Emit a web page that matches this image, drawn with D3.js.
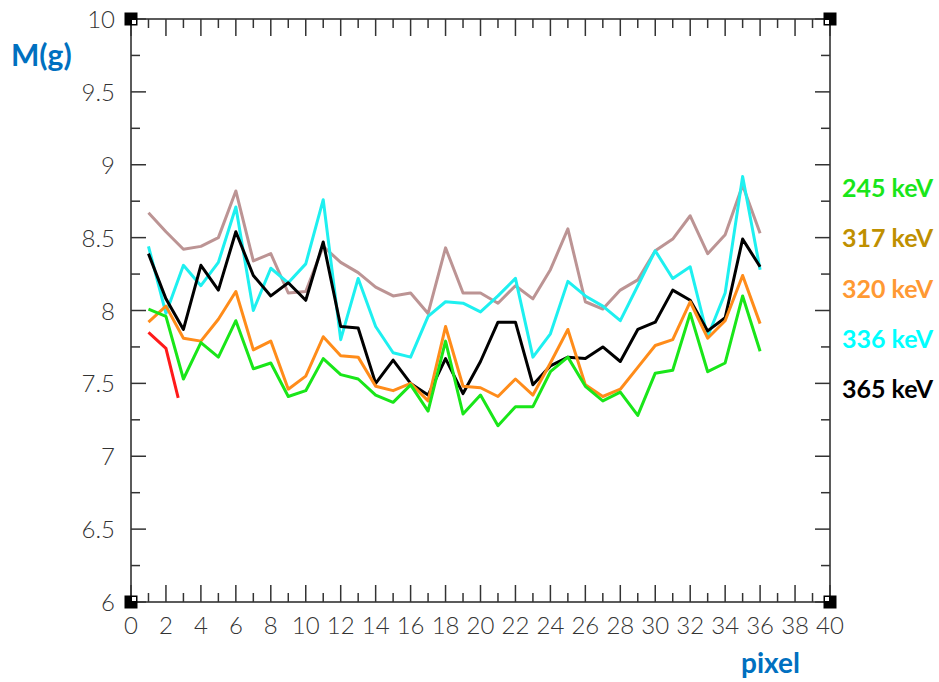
<!DOCTYPE html>
<html>
<head>
<meta charset="utf-8">
<script src="https://cdn.jsdelivr.net/npm/d3@7"></script>
<style>
  html, body { margin: 0; padding: 0; background: #fff; }
  svg { display: block; }
</style>
</head>
<body>
<svg id="chart" width="939" height="682"></svg>
<script>
// ---- data ----
const pixels = [1,2,3,4,5,6,7,8,9,10,11,12,13,14,15,16,17,18,19,20,21,22,23,24,25,26,27,28,29,30,31,32,33,34,35,36];
const series245 = [8.01,7.96,7.53,7.78,7.68,7.93,7.60,7.64,7.41,7.45,7.67,7.56,7.53,7.42,7.37,7.49,7.31,7.79,7.29,7.42,7.21,7.34,7.34,7.58,7.68,7.48,7.38,7.44,7.28,7.57,7.59,7.98,7.58,7.64,8.10,7.72];
const series317 = [8.67,8.54,8.42,8.44,8.50,8.82,8.34,8.39,8.12,8.13,8.44,8.33,8.26,8.16,8.10,8.12,7.98,8.43,8.12,8.12,8.05,8.17,8.08,8.28,8.56,8.06,8.01,8.14,8.21,8.41,8.49,8.65,8.39,8.52,8.86,8.53];
const series320 = [7.92,8.03,7.81,7.79,7.94,8.13,7.73,7.79,7.46,7.55,7.82,7.69,7.68,7.48,7.45,7.50,7.38,7.89,7.48,7.47,7.41,7.53,7.42,7.64,7.87,7.49,7.41,7.46,7.61,7.76,7.80,8.06,7.81,7.93,8.24,7.91];
const series336 = [8.44,7.98,8.31,8.17,8.33,8.71,8.00,8.29,8.19,8.32,8.76,7.80,8.22,7.89,7.71,7.68,7.96,8.06,8.05,7.99,8.10,8.22,7.68,7.84,8.20,8.10,8.03,7.93,8.17,8.41,8.22,8.30,7.82,8.12,8.92,8.28];
const series365 = [8.39,8.08,7.87,8.31,8.14,8.54,8.24,8.10,8.19,8.07,8.47,7.89,7.88,7.50,7.66,7.50,7.42,7.67,7.43,7.65,7.92,7.92,7.49,7.62,7.68,7.67,7.75,7.65,7.87,7.92,8.14,8.07,7.86,7.95,8.49,8.30];
const redPixels = [1,2,2.7];
const redValues = [7.85,7.74,7.40];

const xTicks = d3.range(0, 41, 2);
const xMinorTicks = d3.range(0, 41, 1);
const yTicks = [6,6.5,7,7.5,8,8.5,9,9.5,10];
const yTickLabels = ["6","6.5","7","7.5","8","8.5","9","9.5","10"];
const yMinorTicks = d3.range(6, 10.001, 0.25);

const legendLabels = ["245 keV","317 keV","320 keV","336 keV","365 keV"];
const legendColors = ["#19e619","#bf9000","#ff9933","#00ffff","#000000"];

// ---- chart ----
const svg = d3.select("#chart");
const x = d3.scaleLinear().domain([0, 40]).range([131, 830]);
const y = d3.scaleLinear().domain([6, 10]).range([602, 19]);

const axisColor = "#333";
const tickFont = "Lato,'Liberation Sans',sans-serif";

const g = svg.append("g");
g.append("rect")
  .attr("x", x(0)).attr("y", y(10))
  .attr("width", x(40) - x(0)).attr("height", y(6) - y(10))
  .attr("fill", "none").attr("stroke", axisColor).attr("stroke-width", 1.6);

function isMajorX(v) { return Math.abs(v % 2) < 1e-6; }
function isMajorY(v) { return Math.abs((v * 2) % 1) < 1e-6; }

xMinorTicks.forEach(v => {
  const len = isMajorX(v) ? 17 : 9;
  g.append("line").attr("x1", x(v)).attr("x2", x(v))
    .attr("y1", y(6)).attr("y2", y(6) - len)
    .attr("stroke", axisColor).attr("stroke-width", 1.5);
  g.append("line").attr("x1", x(v)).attr("x2", x(v))
    .attr("y1", y(10)).attr("y2", y(10) + len)
    .attr("stroke", axisColor).attr("stroke-width", 1.5);
});
yMinorTicks.forEach(v => {
  const len = isMajorY(v) ? 15 : 9;
  g.append("line").attr("x1", x(0)).attr("x2", x(0) + len)
    .attr("y1", y(v)).attr("y2", y(v))
    .attr("stroke", axisColor).attr("stroke-width", 1.5);
  g.append("line").attr("x1", x(40)).attr("x2", x(40) - len)
    .attr("y1", y(v)).attr("y2", y(v))
    .attr("stroke", axisColor).attr("stroke-width", 1.5);
});

[[0,10,1,1],[40,10,-1,1],[0,6,1,-1],[40,6,-1,-1]].forEach(([cx, cy, dx, dy]) => {
  const px = x(cx), py = y(cy);
  g.append("rect").attr("x", px - 6.5).attr("y", py - 6.5)
    .attr("width", 13).attr("height", 13).attr("fill", "#000");
  g.append("rect")
    .attr("x", dx > 0 ? px + 1 : px - 5)
    .attr("y", dy > 0 ? py + 1 : py - 5)
    .attr("width", 4).attr("height", 4).attr("fill", "#fff");
});

g.selectAll("text.xt").data(xTicks).enter().append("text")
  .attr("class", "xt")
  .attr("x", d => x(d)).attr("y", 634)
  .attr("text-anchor", "middle")
  .attr("font-family", tickFont).attr("font-weight", 300).attr("font-size", 24)
  .attr("fill", "#333")
  .text(d => d);

g.selectAll("text.yt").data(yTicks).enter().append("text")
  .attr("class", "yt")
  .attr("x", 115).attr("y", d => y(d) + 9)
  .attr("text-anchor", "end")
  .attr("font-family", tickFont).attr("font-weight", 300).attr("font-size", 24)
  .attr("fill", "#333")
  .text((d, i) => yTickLabels[i]);

const line = d3.line().x(d => x(d[0])).y(d => y(d[1]));
const lineSeries = [
  { vals: redValues, xs: redPixels, color: "#ff1a1a" },
  { vals: series317, xs: pixels, color: "#bc9494" },
  { vals: series336, xs: pixels, color: "#1ef0f0" },
  { vals: series365, xs: pixels, color: "#000000" },
  { vals: series320, xs: pixels, color: "#ff8c1a" },
  { vals: series245, xs: pixels, color: "#19e619" }
];
lineSeries.forEach(s => {
  svg.append("path")
    .datum(s.xs.map((p, i) => [p, s.vals[i]]))
    .attr("d", line)
    .attr("fill", "none")
    .attr("stroke", s.color)
    .attr("stroke-width", 3)
    .attr("stroke-linejoin", "round");
});

const titleFont = "Lato,'Open Sans',sans-serif";
svg.append("text").attr("x", 11).attr("y", 66)
  .attr("font-family", titleFont).attr("font-weight", "bold").attr("font-size", 30)
  .attr("fill", "#0070c0").text("M(g)");
svg.append("text").attr("x", 741).attr("y", 673)
  .attr("font-family", titleFont).attr("font-weight", "bold").attr("font-size", 28)
  .attr("fill", "#0070c0").text("pixel");

legendLabels.forEach((t, i) => {
  svg.append("text").attr("x", 842).attr("y", 197 + i * 50.3)
    .attr("font-family", titleFont).attr("font-weight", "bold").attr("font-size", 25)
    .attr("fill", legendColors[i]).text(t);
});
</script>
</body>
</html>
